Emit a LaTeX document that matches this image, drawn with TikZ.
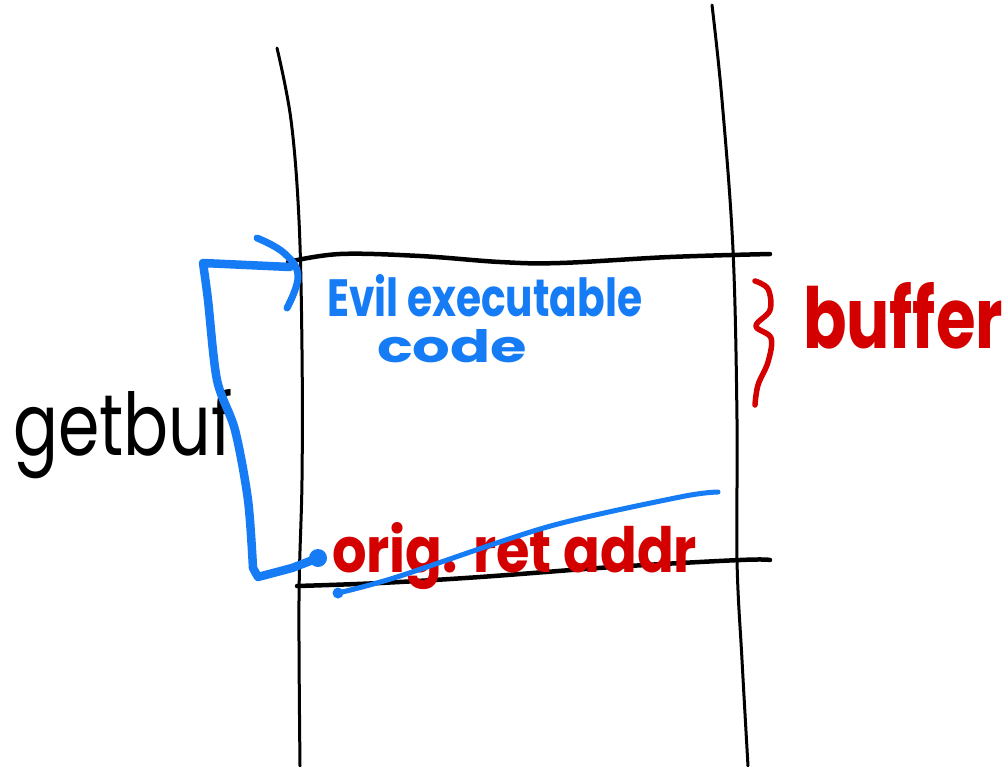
\documentclass[tikz,border=0pt]{standalone}
\usepackage{fontspec}
\usepackage{graphicx}
\newfontfamily\hand{Poppins}
\definecolor{blueink}{RGB}{22,124,245}
\definecolor{redink}{RGB}{212,0,0}
\tikzset{
  pen/.style={line cap=round, line join=round},
  blackline/.style={pen, draw=black, line width=3pt},
  blackbar/.style={pen, draw=black, line width=4.5pt},
  bluepen/.style={pen, draw=blueink, line width=8.5pt},
  textlbl/.style={anchor=base west, inner sep=0pt, outer sep=0pt, font=\hand\bfseries},
}
\begin{document}
\begin{tikzpicture}[x=1pt,y=-1pt]
\useasboundingbox (0,0) rectangle (1006,766);
\fill[white] (0,0) rectangle (1006,766);
% stack walls
\draw[blackline] plot[smooth, tension=0.6] coordinates {(277,48) (291,120) (299,220) (302,350) (302,480) (299,600) (300,766)};
\draw[blackline] plot[smooth, tension=0.6] coordinates {(712,5) (722,100) (733,250) (737,420) (737,560) (742,660) (748,766)};
% buffer bounds
\draw[blackbar] plot[smooth, tension=0.6] coordinates {(288,262) (340,254) (420,256) (500,262) (560,263) (670,257) (770,254)};
\draw[blackbar] plot[smooth, tension=0.6] coordinates {(297,586) (380,583) (480,577) (613,567) (740,560) (770,560)};
% texts
\node[textlbl, text=blueink] (evil) at (327,316) {\resizebox{315pt}{42pt}{Evil executable}};
\node[textlbl, text=blueink] (code) at (377,362) {\resizebox{150pt}{33pt}{code}};
\node[textlbl, text=redink] (orig) at (332,572) {\resizebox{365pt}{50pt}{orig. ret addr}};
\node[textlbl, text=black, font=\hand\mdseries] (getbuf) at (13,455) {\resizebox{220pt}{66pt}{getbuf}};
\node[textlbl, text=redink] (buffer) at (803,348) {\resizebox{200pt}{66pt}{buffer}};
% brace
\draw[pen, draw=redink, line width=5.5pt] plot[smooth, tension=0.6] coordinates {(755,281) (768,289) (770,310) (756,326) (771,338) (768,362) (758,385) (755,405)};
% blue strike-through
\coordinate (s0) at (338,593);
\coordinate (s1) at (718,492);
\draw[pen, draw=blueink, line width=5pt] plot[smooth, tension=0.5] coordinates {(s0) (397,577) (547,527) (680,497) (s1)};
\fill[blueink] (s0) circle (5.5pt);
% getbuf bracket
\coordinate (dot) at (318,558);
\coordinate (top) at (290,267);
\draw[bluepen] (top) -- (203,263) plot[smooth, tension=0.5] coordinates {(203,263) (208,300) (217,380) (235,430) (248,500) (253,568)} -- (258,577) -- (292,568) -- (dot);
\fill[blueink] (dot) circle (9pt);
% arrowhead arc
\draw[pen, draw=blueink, line width=7pt] plot[smooth, tension=0.7] coordinates {(257,238) (284,253) (298,276) (287,308)};
\end{tikzpicture}
\end{document}
